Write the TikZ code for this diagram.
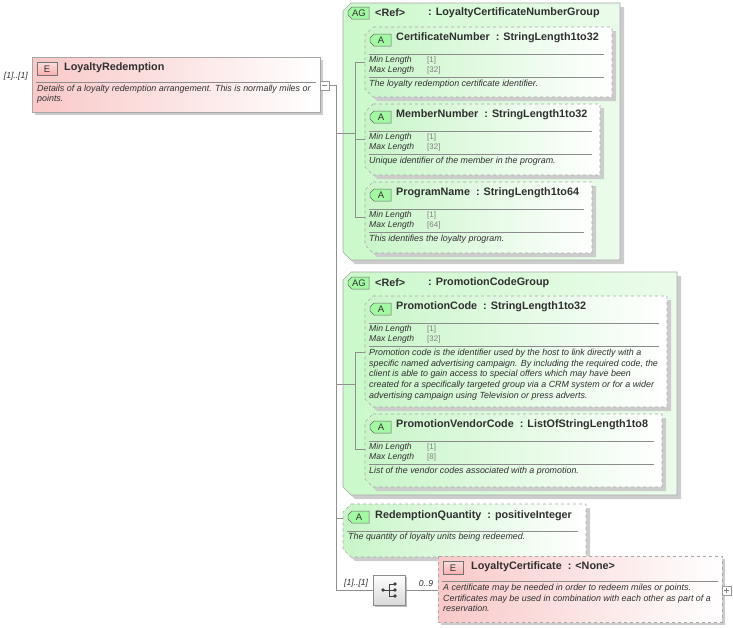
\documentclass[tikz,border=0pt]{standalone}
\usepackage{fontspec}
\setmainfont{Liberation Sans}
\definecolor{lg}{HTML}{C8F5C8}
\definecolor{lr}{HTML}{F9C8C8}
\definecolor{bd}{HTML}{A8A8A8}
\definecolor{ln}{HTML}{909090}
\definecolor{tx}{HTML}{303030}
\tikzset{
 ttl/.style={anchor=west,inner sep=0pt,font=\bfseries\fontsize{10.8}{12}\selectfont,text=tx},
 dsc/.style={anchor=north west,inner sep=0pt,font=\itshape\fontsize{8.9}{10.6}\selectfont,text=tx,align=left},
 fac/.style={anchor=west,inner sep=0pt,font=\itshape\fontsize{8.6}{10}\selectfont,text=tx},
 val/.style={anchor=west,inner sep=0pt,font=\fontsize{8}{9}\selectfont,text=black!50},
 conn/.style={draw=ln,line width=0.6pt},
 sep/.style={draw=black!45,line width=0.5pt},
}
\newcommand\chbox[5]{%
 \fill[black!20] (#1+8+4,#2+4) -- (#3+4,#2+4) -- (#3+4,#4+4) -- (#1+8+4,#4+4) -- (#1+4,#4-8+4) -- (#1+4,#2+8+4) -- cycle;
 \path[#5] (#1+8,#2) -- (#3,#2) -- (#3,#4) -- (#1+8,#4) -- (#1,#4-8) -- (#1,#2+8) -- cycle;}
\newcommand\badge[4]{% chamfered badge
 \path[draw=black!60,fill=#4,line width=0.5pt] (#1+4,#2) -- (#1+21,#2) -- (#1+21,#2+12) -- (#1+4,#2+12) -- (#1,#2+8) -- (#1,#2+4) -- cycle;
 \node[inner sep=0pt,font=\fontsize{9.5}{10}\selectfont,text=tx] at (#1+11,#2+6.5) {#3};}
\newcommand\ebadge[2]{%
 \path[draw=black!55,top color=lr!60!white,bottom color=lr!70!red!70!white,line width=0.5pt] (#1,#2) rectangle (#1+20,#2+13);
 \node[inner sep=0pt,font=\fontsize{9.5}{10}\selectfont,text=tx] at (#1+10,#2+6.8) {E};}
% attribute: x1 y1 x2 y2 title min max desc name
\newcommand\attr[9]{%
 \chbox{#1}{#2}{#3}{#4}{draw=bd,dashed,line width=0.6pt,left color=lg,right color=white}
 \coordinate (#9) at (#1,#2+35);
 \badge{#1+5}{#2+7}{A}{lg!70!green!80!white}
 \node[ttl] at (#1+31,#2+11) {#5};
 \draw[sep] (#1+4,#2+27) -- (#3-8,#2+27);
 \node[fac] at (#1+4,#2+33.5) {Min Length}; \node[val] at (#1+62,#2+33.5) {[#6]};
 \node[fac] at (#1+4,#2+43.5) {Max Length}; \node[val] at (#1+62,#2+43.5) {[#7]};
 \draw[sep] (#1+4,#2+50) -- (#3-8,#2+50);
 \node[dsc] at (#1+4,#2+53) {#8};}
\begin{document}
\begin{tikzpicture}[x=1pt,y=-1pt]
\useasboundingbox (0,0) rectangle (733,627);
% root element
\fill[black!20] (35,60) rectangle (323,115);
\path[draw=bd,line width=0.6pt,left color=lr,right color=white] (32,57) rectangle (320,112);
\node[ttl] (root) at (64,68) {LoyaltyRedemption};
\ebadge{37}{62}
\draw[sep] (36,82) -- (316,82);
\node[dsc] at (37,84.5) {Details of a loyalty redemption arrangement. This is normally miles or\\points.};
\node[anchor=east,inner sep=0pt,font=\itshape\fontsize{8.6}{9}\selectfont,text=tx] (rm) at (28,76) {[1]..[1]};
\draw[draw=black!40,fill=white,line width=0.5pt] (320,81) rectangle (329,90);
\draw[black!50,line width=0.5pt] (322,85.5) -- (327,85.5);
\coordinate (j0) at (329,85.5);
\coordinate (spine) at (336,85.5);
\coordinate (spineEnd) at (336,590);
\draw[conn] (j0) -- (spine) -- (spineEnd);
% AG1
\chbox{343}{3}{620}{260}{draw=bd,line width=0.6pt,left color=lg!90!green!70!white,right color=lg!35!white}
\badge{348}{7}{AG}{lg!70!green!80!white}
\node[ttl] at (375,13) {<Ref>};
\node[ttl] at (428,13) {: LoyaltyCertificateNumberGroup};
\attr{365}{27}{612}{97}{CertificateNumber \ : StringLength1to32}{1}{32}{The loyalty redemption certificate identifier.}{c1}
\attr{365}{104}{600}{175}{MemberNumber \ : StringLength1to32}{1}{32}{Unique identifier of the member in the program.}{c2}
\attr{365}{182}{592}{253}{ProgramName \ : StringLength1to64}{1}{64}{This identifies the loyalty program.}{c3}
\coordinate (g1) at (355,133); \coordinate (g1a) at (336,133);
\coordinate (v1t) at (355,62); \coordinate (v1b) at (355,217);
\coordinate (v1m) at (355,139);
\draw[conn] (g1a) -- (g1);
\draw[conn] (c1) -- (v1t) -- (v1b) -- (c3);
\draw[conn] (c2) -- (v1m);
% AG2
\chbox{343}{272}{677}{495}{draw=bd,line width=0.6pt,left color=lg!90!green!70!white,right color=lg!35!white}
\badge{348}{277}{AG}{lg!70!green!80!white}
\node[ttl] at (375,283) {<Ref>};
\node[ttl] at (428,283) {: PromotionCodeGroup};
\attr{365}{296}{667}{407}{PromotionCode \ : StringLength1to32}{1}{32}{Promotion code is the identifier used by the host to link directly with a\\specific named advertising campaign. By including the required code, the\\client is able to gain access to special offers which may have been\\created for a specifically targeted group via a CRM system or for a wider\\advertising campaign using Television or press adverts.}{p1}
\attr{365}{414}{662}{487}{PromotionVendorCode \ : ListOfStringLength1to8}{1}{8}{List of the vendor codes associated with a promotion.}{p2}
\coordinate (g2) at (355,384); \coordinate (g2a) at (336,384);
\coordinate (v2t) at (355,352); \coordinate (v2b) at (355,449);
\coordinate (p1r) at (365,352); \coordinate (p2r) at (365,449);
\draw[conn] (g2a) -- (g2);
\draw[conn] (p1r) -- (v2t) -- (v2b) -- (p2r);
% RedemptionQuantity
\chbox{343}{504}{586}{557}{draw=bd,dashed,line width=0.6pt,left color=lg,right color=white}
\badge{348}{511}{A}{lg!70!green!80!white}
\node[ttl] at (375,516) {RedemptionQuantity \ : positiveInteger};
\draw[sep] (347,531) -- (578,531);
\node[dsc] at (348,533) {The quantity of loyalty units being redeemed.};
\coordinate (rq) at (343,518); \coordinate (rqa) at (336,518);
\draw[conn] (rqa) -- (rq);
% sequence
\node[anchor=south west,inner sep=0pt,font=\itshape\fontsize{8.6}{9}\selectfont,text=tx] at (344,587) {[1]..[1]};
\fill[black!25] (375,577) rectangle (407,607);
\node[draw=black!45,line width=0.5pt,top color=white,bottom color=black!15,minimum width=32pt,minimum height=30pt,inner sep=0pt] (seq) at (389,590) {};
\fill[black!75] (383,590) circle (1.8);
\draw[black!75,line width=0.9pt] (383,590) -- (389,590) (389,584) -- (389,596) (389,584) -- (394,584) (389,590) -- (394,590) (389,596) -- (394,596);
\fill[black!75] (395,584) circle (1.8) (395,590) circle (1.8) (395,596) circle (1.8);
\draw[conn] (spineEnd) -- (seq.west);
\coordinate (lc) at (438,590);
\draw[conn] (seq.east) -- (lc);
\node[anchor=south,inner sep=0pt,font=\itshape\fontsize{8.6}{9}\selectfont,text=tx] at (426,587) {0..9};
% LoyaltyCertificate
\fill[black!20] (441,559) rectangle (725,625);
\path[draw=bd,dashed,line width=0.6pt,left color=lr,right color=white] (438,556) rectangle (722,622);
\ebadge{443}{561}
\node[ttl] at (471,567) {LoyaltyCertificate \ : <None>};
\draw[sep] (442,581) -- (718,581);
\node[dsc] at (443,584) {A certificate may be needed in order to redeem miles or points.\\Certificates may be used in combination with each other as part of a\\reservation.};
\draw[draw=black!40,fill=white,line width=0.5pt] (722,586) rectangle (731,595);
\draw[black!50,line width=0.5pt] (724,590.5) -- (729,590.5) (726.5,588) -- (726.5,593);
\end{tikzpicture}
\end{document}
